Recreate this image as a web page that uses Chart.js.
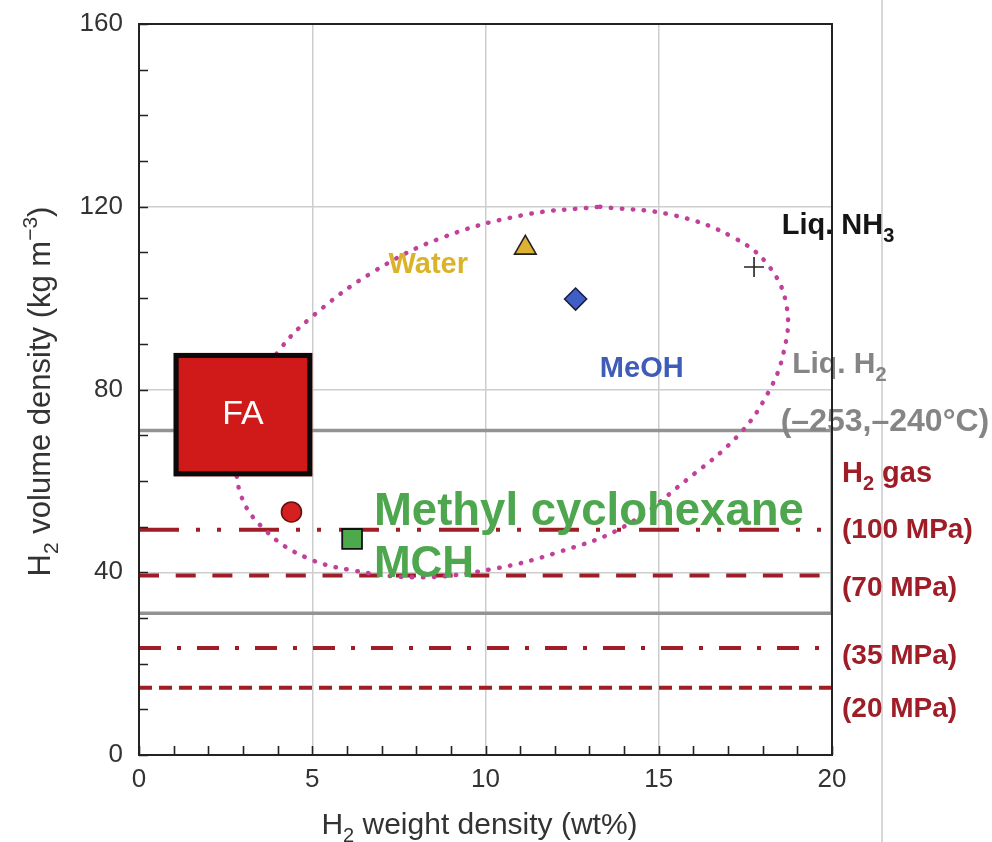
<!DOCTYPE html>
<html><head><meta charset="utf-8">
<script src="https://cdn.jsdelivr.net/npm/chart.js@4.4.0/dist/chart.umd.min.js"></script>
<style>
html,body{margin:0;padding:0;background:#fff;}
#wrap{position:relative;width:992px;height:842px;overflow:hidden;}
#sep{position:absolute;left:881px;top:0;width:2px;height:842px;background:#d8d8d8;}
canvas{position:absolute;left:0;top:0;}
</style></head><body>
<div id="wrap"><div id="sep"></div><canvas id="c" width="992" height="842"></canvas></div>
<script>
// ---- data ----
const materials     = ['FA', 'MCH', 'Water', 'MeOH', 'Liq. NH3'];
const weightDensity = [4.4, 6.15, 11.15, 12.6, 17.75];   // wt%
const volumeDensity = [53.2, 47.3, 111.0, 99.8, 106.8];  // kg m-3
const faRangeX = [1.0, 5.0];        // FA box (wt%)
const faRangeY = [61, 88];          // FA box (kg m-3)
const liqH2RangeX = [0, 20];
const liqH2RangeY = [31, 71];       // liquid H2, -253 .. -240 degC
const gasPressures = ['100 MPa', '70 MPa', '35 MPa', '20 MPa'];
const gasDensity   = [49.3, 39.3, 23.4, 14.7];
const gasRangeX    = [0, 20];
const ellipseX = [13.3, 15.4, 17.15, 18.2, 18.7, 18.6, 18.15, 17.3, 15.8, 14.0, 12.1, 10.2, 8.1, 6.1, 4.8, 3.7, 2.95, 2.85, 3.2, 4.05, 5.05, 6.75, 8.7, 11.1, 13.3];
const ellipseY = [120, 118.2, 113.3, 106.8, 97.8, 88, 79.2, 70, 60.2, 50, 44.4, 40.7, 38.9, 40.5, 43.3, 48.8, 56.7, 66.7, 77.7, 88.6, 96.3, 105.7, 113.1, 118.2, 120];
const xTickLabels = [0, 5, 10, 15, 20];
const yTickLabels = [0, 40, 80, 120, 160];

const FONT = '"Liberation Sans", Arial, Helvetica, sans-serif';
const GAS_COLOR = '#9e1d27';
const gasDash = [[40, 17, 4, 17, 4, 18], [20, 16.7], [22, 16, 4, 16], [13, 7]];

function pt(i) { return [{x: weightDensity[i], y: volumeDensity[i]}]; }

const datasets = [
  {label: materials[4], data: pt(4), pointStyle: 'cross', pointRadius: 10, pointBorderColor: '#222', pointBorderWidth: 1.6, pointBackgroundColor: '#222'},
  {label: materials[3], data: pt(3), pointStyle: 'rectRot', pointRadius: 11, pointBorderColor: '#1c1c3c', pointBorderWidth: 1.6, pointBackgroundColor: '#3f5fc6'},
  {label: materials[2], data: pt(2), pointStyle: 'triangle', pointRadius: 12.5, pointBorderColor: '#222', pointBorderWidth: 1.6, pointBackgroundColor: '#deb033'},
  {label: materials[1], data: pt(1), pointStyle: 'rect', pointRadius: 14, pointBorderColor: '#111', pointBorderWidth: 1.8, pointBackgroundColor: '#4caa4c'},
  {label: materials[0], data: pt(0), pointStyle: 'circle', pointRadius: 10, pointBorderColor: '#6a0e0e', pointBorderWidth: 1.6, pointBackgroundColor: '#d42020'},
  {label: 'ellipse', data: ellipseX.map((x, i) => ({x, y: ellipseY[i]})), showLine: true, pointRadius: 0,
   borderColor: '#c2409a', borderWidth: 4.5, borderDash: [0.5, 10.5], borderCapStyle: 'round', tension: 0.4}
];
gasDensity.forEach((d, i) => {
  datasets.push({label: gasPressures[i], data: gasRangeX.map(x => ({x, y: d})), showLine: true, pointRadius: 0,
    borderColor: GAS_COLOR, borderWidth: 4, borderDash: gasDash[i], borderCapStyle: 'butt'});
});
datasets.push({label: 'Liq. H2', data: [
  {x: liqH2RangeX[0], y: liqH2RangeY[1]}, {x: liqH2RangeX[1], y: liqH2RangeY[1]},
  {x: liqH2RangeX[1], y: liqH2RangeY[0]}, {x: liqH2RangeX[0], y: liqH2RangeY[0]}],
  showLine: true, pointRadius: 0, borderColor: '#939393', borderWidth: 3.5});

function drawRich(ctx, parts, x, y, size, color, weight, align) {
  const fonts = parts.map(p => `${weight} ${p[1] ? Math.round(size * 0.68) : size}px ${FONT}`);
  let w = 0;
  parts.forEach((p, i) => { ctx.font = fonts[i]; w += ctx.measureText(p[0]).width; });
  let cx = align === 'center' ? x - w / 2 : x;
  ctx.fillStyle = color; ctx.textAlign = 'left'; ctx.textBaseline = 'alphabetic';
  parts.forEach((p, i) => {
    ctx.font = fonts[i];
    const dy = p[1] === 1 ? size * 0.27 : (p[1] === 2 ? -size * 0.42 : 0);
    ctx.fillText(p[0], cx, y + dy);
    cx += ctx.measureText(p[0]).width;
  });
}

const annot = {
  id: 'annot',
  afterDatasetDraw(chart, args) {
    if (args.meta.label !== 'ellipse') return;
    const {ctx, scales: {x, y}} = chart;
    const x0 = x.getPixelForValue(faRangeX[0]), x1 = x.getPixelForValue(faRangeX[1]);
    const y0 = y.getPixelForValue(faRangeY[1]), y1 = y.getPixelForValue(faRangeY[0]);
    ctx.save();
    ctx.fillStyle = '#d01a1a';
    ctx.fillRect(x0, y0, x1 - x0, y1 - y0);
    ctx.lineWidth = 5; ctx.strokeStyle = '#0a0a0a';
    ctx.strokeRect(x0 + 2.5, y0 + 2.5, x1 - x0 - 5, y1 - y0 - 5);
    ctx.fillStyle = '#fff'; ctx.font = `34px ${FONT}`; ctx.textAlign = 'center'; ctx.textBaseline = 'middle';
    ctx.fillText(materials[0], (x0 + x1) / 2, (y0 + y1) / 2);
    ctx.restore();
  },
  afterDatasetsDraw(chart) {
    const {ctx, chartArea: a, scales: {x, y}} = chart;
    ctx.save();
    const L = [
      {p: [['Water', 0]], x: 7.2, y: 105.5, s: 29, c: '#dab32a'},
      {p: [['MeOH', 0]], x: 13.3, y: 82.7, s: 29, c: '#3e5cb8'},
      {p: [['Liq. NH', 0], ['3', 1]], x: 18.55, y: 114.0, s: 29, c: '#151515'},
      {p: [['Liq. H', 0], ['2', 1]], x: 18.85, y: 83.6, s: 30, c: '#858585'},
      {p: [['(\u2013253,\u2013240\u00b0C)', 0]], x: 18.52, y: 71.0, s: 32, c: '#858585'},
      {p: [['Methyl cyclohexane', 0]], x: 6.78, y: 50.3, s: 45.5, c: '#4ea64e'},
      {p: [['MCH', 0]], x: 6.78, y: 39.0, s: 44, c: '#4ea64e'}
    ];
    L.forEach(l => drawRich(ctx, l.p, x.getPixelForValue(l.x), y.getPixelForValue(l.y), l.s, l.c, 'bold', 'left'));
    const rx = a.right + 10;
    drawRich(ctx, [['H', 0], ['2', 1], [' gas', 0]], rx, y.getPixelForValue(59.7), 29, GAS_COLOR, 'bold', 'left');
    const gy = [47.5, 34.8, 19.9, 8.3];
    gasPressures.forEach((p, i) => drawRich(ctx, [[`(${p})`, 0]], rx, y.getPixelForValue(gy[i]), 28, GAS_COLOR, 'bold', 'left'));
    ctx.restore();
  },
  afterDraw(chart) {
    const {ctx, chartArea: a, scales: {x, y}} = chart;
    ctx.save();
    ctx.strokeStyle = '#222'; ctx.lineWidth = 2;
    ctx.strokeRect(a.left, a.top, a.right - a.left, a.bottom - a.top);
    ctx.lineWidth = 1.6;
    ctx.beginPath();
    y.ticks.forEach(t => { const py = Math.round(y.getPixelForValue(t.value)) + 0.5; ctx.moveTo(a.left, py); ctx.lineTo(a.left + 9, py); });
    x.ticks.forEach(t => { const px = Math.round(x.getPixelForValue(t.value)) + 0.5; ctx.moveTo(px, a.bottom); ctx.lineTo(px, a.bottom - 9); });
    ctx.stroke();
    // axis titles
    drawRich(ctx, [['H', 0], ['2', 1], [' weight density (wt%)', 0]], (a.left + a.right) / 2 - 6, 834, 30, '#333', 'normal', 'center');
    ctx.translate(50, (a.top + a.bottom) / 2 + 2);
    ctx.rotate(-Math.PI / 2);
    drawRich(ctx, [['H', 0], ['2', 1], [' volume density (kg m', 0], ['\u22123', 2], [')', 0]], 0, 0, 31, '#333', 'normal', 'center');
    ctx.restore();
  }
};

const gridColor = (ctx, labels) => (ctx.tick && labels.includes(ctx.tick.value) && ctx.tick.value !== labels[0] && ctx.tick.value !== labels[labels.length - 1]) ? '#cdcdcd' : 'rgba(0,0,0,0)';

new Chart(document.getElementById('c'), {
  type: 'scatter',
  data: {datasets},
  options: {
    responsive: false, animation: false, devicePixelRatio: 1,
    layout: {padding: {left: 0, right: 160, top: 24, bottom: 0}},
    plugins: {legend: {display: false}, tooltip: {enabled: false}},
    scales: {
      x: {type: 'linear', min: 0, max: 20,
        afterFit: s => { s.height = 87; s.paddingLeft = 0; s.paddingRight = 0; s.paddingTop = 0; s.paddingBottom = 0; },
        ticks: {stepSize: 1, autoSkip: false, maxRotation: 0, padding: 9, color: '#333',
          font: {family: FONT, size: 26}, callback: v => xTickLabels.includes(v) ? String(v) : ''},
        grid: {color: c => gridColor(c, xTickLabels), lineWidth: 1.5, drawTicks: false},
        border: {display: true, color: '#222', width: 2}},
      y: {type: 'linear', min: 0, max: 160,
        afterFit: s => { s.width = 139; s.paddingLeft = 0; s.paddingRight = 0; s.paddingTop = 0; s.paddingBottom = 0; },
        ticks: {stepSize: 10, autoSkip: false, padding: 16, color: '#333',
          font: {family: FONT, size: 26}, callback: v => yTickLabels.includes(v) ? String(v) : ''},
        grid: {color: c => gridColor(c, yTickLabels), lineWidth: 1.5, drawTicks: false},
        border: {display: true, color: '#222', width: 2}}
    }
  },
  plugins: [annot]
});
</script></body></html>
